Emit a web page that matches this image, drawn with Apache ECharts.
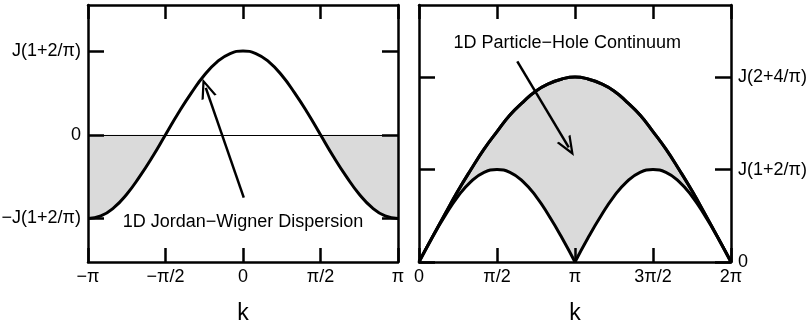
<!DOCTYPE html>
<html>
<head>
<meta charset="utf-8">
<script src="https://cdn.jsdelivr.net/npm/echarts@6/dist/echarts.min.js"></script>
<style>
html, body { margin: 0; padding: 0; background: #fff; }
#chart { width: 807px; height: 330px; }
</style>
</head>
<body>
<div id="chart"></div>
<script>
// k in units of pi, energies in units of J(1+2/pi)
var kLeft = [-1, -0.917, -0.833, -0.75, -0.667, -0.583, -0.5, -0.417, -0.333, -0.25, -0.167, -0.083, 0,
             0.083, 0.167, 0.25, 0.333, 0.417, 0.5, 0.583, 0.667, 0.75, 0.833, 0.917, 1];
var dispersion = [-1, -0.97, -0.87, -0.71, -0.5, -0.26, 0, 0.26, 0.5, 0.71, 0.87, 0.97, 1,
                  0.97, 0.87, 0.71, 0.5, 0.26, 0, -0.26, -0.5, -0.71, -0.87, -0.97, -1];

var kRight = [0, 0.083, 0.167, 0.25, 0.333, 0.417, 0.5, 0.583, 0.667, 0.75, 0.833, 0.917, 1,
              1.083, 1.167, 1.25, 1.333, 1.417, 1.5, 1.583, 1.667, 1.75, 1.833, 1.917, 2];
var lowerEdge = [0, 0.26, 0.5, 0.71, 0.87, 0.97, 1, 0.97, 0.87, 0.71, 0.5, 0.26, 0,
                 0.26, 0.5, 0.71, 0.87, 0.97, 1, 0.97, 0.87, 0.71, 0.5, 0.26, 0];
var upperEdge = [0, 0.26, 0.52, 0.77, 1.0, 1.22, 1.41, 1.59, 1.73, 1.85, 1.93, 1.98, 2,
                 1.98, 1.93, 1.85, 1.73, 1.59, 1.41, 1.22, 1.0, 0.77, 0.52, 0.26, 0];

var xLabelsLeft = { '-1': '\u2212\u03c0', '-0.5': '\u2212\u03c0/2', '0': '0', '0.5': '\u03c0/2', '1': '\u03c0' };
var xLabelsRight = { '0': '0', '0.5': '\u03c0/2', '1': '\u03c0', '1.5': '3\u03c0/2', '2': '2\u03c0' };
var yLabelsLeft = { '-1': '\u2212J(1+2/\u03c0)', '0': '0', '1': 'J(1+2/\u03c0)' };
var yLabelsRight = { '0': '0', '1': 'J(1+2/\u03c0)', '2': 'J(2+4/\u03c0)' };

var arrowLeft = [[0.005, -0.75], [-0.24, 0.56]];
var arrowRight = [[0.63, 2.17], [0.96, 1.24]];
var noteLeft = [0.0, -1.04];
var noteRight = [0.95, 2.37];

var FONT = 'Liberation Sans, Arial, Helvetica, sans-serif';
var pts = function (xs, ys, from, to) {
    var out = [];
    for (var i = from; i <= to; i++) out.push([xs[i], ys[i]]);
    return out;
};
var arrowHead = 'path://M0,20 L8,0 L16,20 L13.6,20 L8,6 L2.4,20 Z';

function xAx(grid, min, max, labels, top) {
    return {
        type: 'value', gridIndex: grid, min: min, max: max, interval: 0.5,
        position: top ? 'top' : 'bottom', z: 5,
        axisLine: { show: true, onZero: false, lineStyle: { color: '#000', width: 2.5 } },
        axisTick: { show: true, inside: true, length: 14, lineStyle: { color: '#000', width: 2.5 } },
        axisLabel: {
            show: !top, margin: 6, color: '#000', fontSize: 18, fontFamily: FONT,
            formatter: function (v) { return labels[String(v)] || ''; }
        },
        splitLine: { show: false },
        name: top ? '' : 'k', nameLocation: 'middle', nameGap: 40,
        nameTextStyle: { color: '#000', fontSize: 23, fontFamily: FONT }
    };
}
function yAx(grid, min, max, labels, right, showLabels) {
    var vals = Object.keys(labels).map(Number);
    return {
        type: 'value', gridIndex: grid, min: min, max: max,
        position: right ? 'right' : 'left', z: 5,
        axisLine: { show: true, onZero: false, lineStyle: { color: '#000', width: 2.5 } },
        axisTick: { show: true, inside: true, length: 16, customValues: vals, lineStyle: { color: '#000', width: 2.5 } },
        axisLabel: {
            show: showLabels, margin: 7, color: '#000', fontSize: 18, fontFamily: FONT,
            customValues: vals,
            formatter: function (v) { return labels[String(v)] || ''; }
        },
        splitLine: { show: false }
    };
}

var chart = echarts.init(document.getElementById('chart'), null, { renderer: 'canvas' });

var series = [];
// left panel: shaded negative parts
[[0, 6], [18, 24]].forEach(function (r) {
    series.push({
        type: 'line', xAxisIndex: 0, yAxisIndex: 0, smooth: true, symbol: 'none',
        data: pts(kLeft, dispersion, r[0], r[1]),
        lineStyle: { width: 0 }, areaStyle: { color: '#dadada', opacity: 1, origin: 0 }, z: 1
    });
});
series.push({
    type: 'line', xAxisIndex: 0, yAxisIndex: 0, smooth: true, symbol: 'none',
    data: pts(kLeft, dispersion, 0, kLeft.length - 1),
    lineStyle: { color: '#000', width: 3 }, z: 3,
    markLine: {
        silent: true, animation: false, label: { show: false },
        data: [
            [{ coord: [-1, 0], symbol: 'none', lineStyle: { color: '#000', width: 1, type: 'solid' } },
             { coord: [1, 0], symbol: 'none' }],
            [{ coord: arrowLeft[0], symbol: 'none', lineStyle: { color: '#000', width: 2.5, type: 'solid' } },
             { coord: arrowLeft[1], symbol: arrowHead, symbolSize: [16, 20] }]
        ]
    },
    markPoint: {
        silent: true, animation: false,
        data: [{ coord: noteLeft, symbol: 'circle', symbolSize: 1, itemStyle: { color: 'rgba(0,0,0,0)' },
                 label: { show: true, position: 'inside', formatter: '1D Jordan\u2212Wigner Dispersion',
                          color: '#000', fontSize: 18, fontFamily: FONT } }]
    }
});

// right panel: gray under the upper edge, white under the lower edge
series.push({
    type: 'line', xAxisIndex: 1, yAxisIndex: 2, smooth: true, symbol: 'none',
    data: pts(kRight, upperEdge, 0, kRight.length - 1),
    lineStyle: { color: '#000', width: 3 }, areaStyle: { color: '#dadada', opacity: 1, origin: 0 }, z: 1,
    markLine: {
        silent: true, animation: false, label: { show: false },
        data: [
            [{ coord: arrowRight[0], symbol: 'none', lineStyle: { color: '#000', width: 2.5, type: 'solid' } },
             { coord: arrowRight[1], symbol: arrowHead, symbolSize: [16, 20] }]
        ]
    },
    markPoint: {
        silent: true, animation: false,
        data: [{ coord: noteRight, symbol: 'circle', symbolSize: 1, itemStyle: { color: 'rgba(0,0,0,0)' },
                 label: { show: true, position: 'inside', formatter: '1D Particle\u2212Hole Continuum',
                          color: '#000', fontSize: 18, fontFamily: FONT } }]
    }
});
// two halves so the cusp at pi stays sharp
[[0, 12], [12, 24]].forEach(function (r) {
    series.push({
        type: 'line', xAxisIndex: 1, yAxisIndex: 2, smooth: true, symbol: 'none',
        data: pts(kRight, lowerEdge, r[0], r[1]),
        lineStyle: { color: '#000', width: 3 }, areaStyle: { color: '#fff', opacity: 1, origin: 0 }, z: 2
    });
});
// redraw upper edge on top of the white fill
series.push({
    type: 'line', xAxisIndex: 1, yAxisIndex: 2, smooth: true, symbol: 'none',
    data: pts(kRight, upperEdge, 0, kRight.length - 1),
    lineStyle: { color: '#000', width: 3 }, z: 3
});

chart.setOption({
    animation: false,
    backgroundColor: '#fff',
    grid: [
        { left: 88, top: 5, width: 310, height: 257, outerBoundsMode: 'none', containLabel: false },
        { left: 419, top: 5, width: 312, height: 257, outerBoundsMode: 'none', containLabel: false }
    ],
    xAxis: [
        xAx(0, -1, 1, xLabelsLeft, false),
        xAx(1, 0, 2, xLabelsRight, false),
        xAx(0, -1, 1, xLabelsLeft, true),
        xAx(1, 0, 2, xLabelsRight, true)
    ],
    yAxis: [
        yAx(0, -1.52, 1.55, yLabelsLeft, false, true),
        yAx(0, -1.52, 1.55, yLabelsLeft, true, false),
        yAx(1, 0, 2.78, yLabelsRight, true, true),
        yAx(1, 0, 2.78, yLabelsRight, false, false)
    ],
    series: series
});
</script>
</body>
</html>
